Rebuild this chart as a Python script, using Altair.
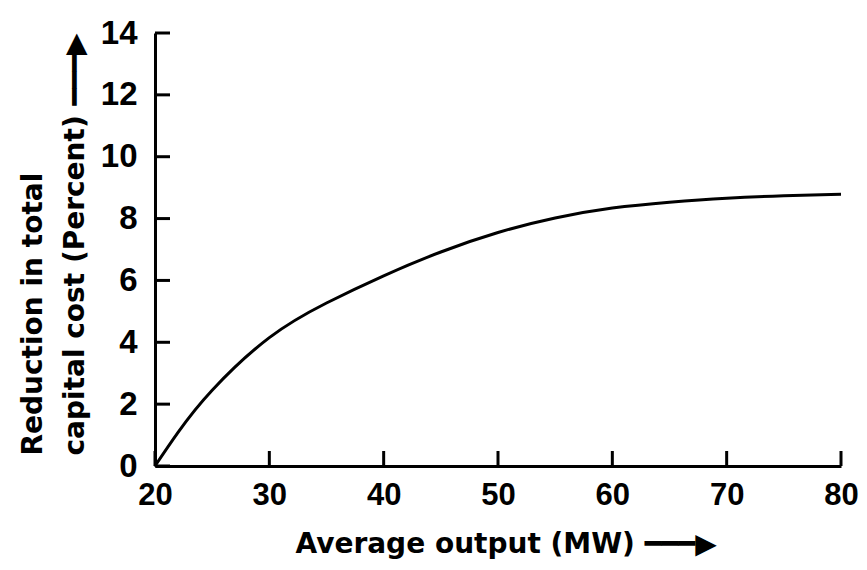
import altair as alt
import pandas as pd

# Curve
output_mw = [20, 22, 25, 30, 35, 40, 45, 50, 55, 60, 65, 70, 75, 80]
reduction_pct = [0, 1.08, 2.45, 4.15, 5.27, 6.15, 6.92, 7.55, 8.02, 8.34, 8.53, 8.66, 8.74, 8.79]

x_ticks = [20, 30, 40, 50, 60, 70, 80]
y_ticks = [0, 2, 4, 6, 8, 10, 12, 14]

curve = pd.DataFrame({"x": output_mw, "y": reduction_pct})
xt = pd.DataFrame({"x": x_ticks})
yt = pd.DataFrame({"y": y_ticks})

W, H = 686, 433
xscale = alt.Scale(domain=[20, 80], nice=False, zero=False)
yscale = alt.Scale(domain=[0, 14], nice=False)

LABEL_FONT = "Liberation Sans"
TITLE_FONT = "DejaVu Sans"

x_axis = alt.Axis(
    values=x_ticks, grid=False, ticks=False, domain=True, domainWidth=3,
    domainColor="black", labelFont=LABEL_FONT, labelFontSize=31,
    labelFontWeight="bold", labelColor="black", labelPadding=14,
    labelFlush=False, labelOverlap=False,
    title="Average output (MW) ━━━▶", titleFont=TITLE_FONT, titleFontSize=28,
    titleFontWeight="bold", titleColor="black", titleAlign="left",
    titleAnchor="start", titleX=140, titleY=86, titleBaseline="alphabetic",
)
y_axis = alt.Axis(
    values=y_ticks, grid=False, ticks=False, domain=True, domainWidth=3,
    domainColor="black", labelFont=LABEL_FONT, labelFontSize=33,
    labelFontWeight="bold", labelColor="black", labelPadding=18,
    labelFlush=False, labelOverlap=False, labelBaseline="middle",
    title=["Reduction in total", "capital cost (Percent) ━━━▶"],
    titleFont=TITLE_FONT, titleFontSize=28, titleFontWeight="bold",
    titleColor="black", titleAngle=270, titleAlign="left",
    titleBaseline="alphabetic", titleLineHeight=42,
    titleX=-114, titleY=422,
)

line = alt.Chart(curve).mark_line(
    color="black", strokeWidth=3, interpolate="natural"
).encode(
    x=alt.X("x:Q", scale=xscale, axis=x_axis),
    y=alt.Y("y:Q", scale=yscale, axis=y_axis),
)

xtick_marks = alt.Chart(xt).mark_rule(color="black", strokeWidth=3).encode(
    x=alt.X("x:Q", scale=xscale),
    y=alt.value(H),
    y2=alt.value(H - 15),
)
ytick_marks = alt.Chart(yt).mark_rule(color="black", strokeWidth=3).encode(
    y=alt.Y("y:Q", scale=yscale),
    x=alt.value(0),
    x2=alt.value(15),
)

chart = alt.layer(line, xtick_marks, ytick_marks).properties(
    width=W, height=H,
    autosize=alt.AutoSizeParams(type="none"),
    padding={"left": 147, "top": 25, "right": 18, "bottom": 96},
    background="white",
).configure_view(stroke=None)

chart.save("out.html", embed_options={"renderer": "svg", "actions": False})
